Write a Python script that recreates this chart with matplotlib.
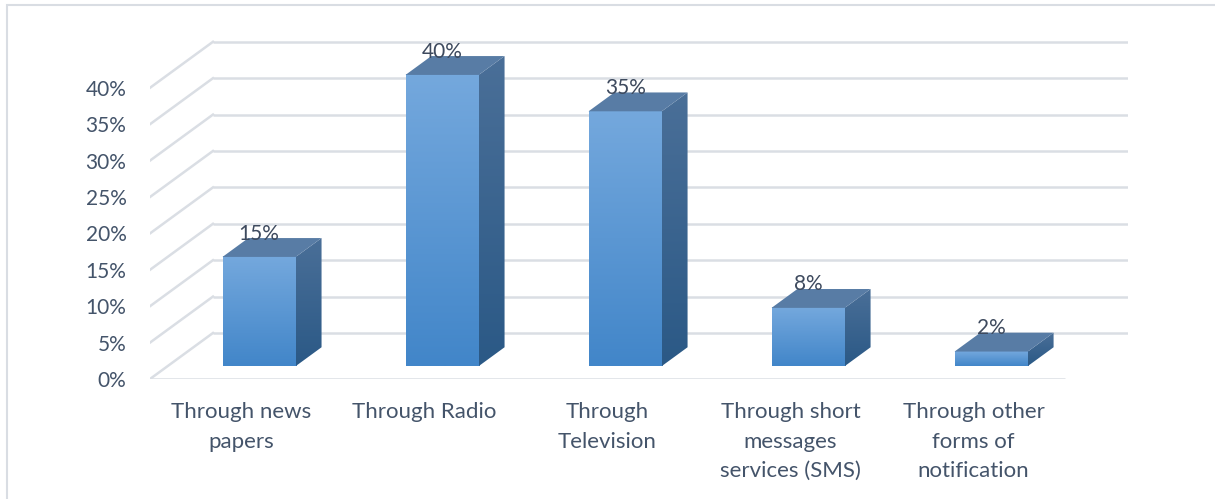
import numpy as np
import matplotlib.pyplot as plt
from matplotlib.patches import Polygon, Rectangle

plt.rcParams["font.family"] = ["Lato", "DejaVu Sans"]

categories = ["Through news\npapers", "Through Radio", "Through\nTelevision",
              "Through short\nmessages\nservices (SMS)", "Through other\nforms of\nnotification"]
values = [15, 40, 35, 8, 2]
yticks = [0, 5, 10, 15, 20, 25, 30, 35, 40]

text_color = "#44546A"
grid_color = "#DADEE4"

# oblique "3d" offsets for the full floor depth (x in category units, y in %)
DX, DY = 0.344, 6.32
F0, F1 = 0.28, 0.69   # bar front / back position inside the floor depth
W = 0.4

fig = plt.figure(figsize=(12.15, 4.99), dpi=100)
ax = fig.add_axes([150 / 1215, 120 / 499, 978 / 1215, 47 * 7.28 / 499])

n = len(categories)
x0, x1 = -0.5, n - 0.5

# back wall gridlines + left wall diagonals
for v in yticks:
    ax.plot([x0 + DX, x1 + DX], [v + DY, v + DY], color=grid_color, lw=1.8, zorder=1,
            solid_capstyle="butt")
    ax.plot([x0, x0 + DX], [v, v + DY], color=grid_color, lw=1.8, zorder=1)
# floor front edge
ax.plot([x0, x1], [0, 0], color=grid_color, lw=1.8, zorder=1, solid_capstyle="butt")


def grad(c_top, c_bot, n=64):
    a = np.array(plt.matplotlib.colors.to_rgb(c_top))
    b = np.array(plt.matplotlib.colors.to_rgb(c_bot))
    t = np.linspace(0, 1, n)[:, None]
    return (a * (1 - t) + b * t)[:, None, :]


for i, v in enumerate(values):
    fx = i + F0 * DX - W / 2
    fy = F0 * DY
    bx = i + F1 * DX - W / 2
    by = F1 * DY
    # front face
    ax.imshow(grad("#74A8DD", "#4286C9"), extent=[fx, fx + W, fy, fy + v],
              aspect="auto", origin="upper", zorder=3, interpolation="bilinear")
    # side face
    side = Polygon([(fx + W, fy), (bx + W, by), (bx + W, by + v), (fx + W, fy + v)],
                   closed=True, facecolor="none", edgecolor="none")
    ax.add_patch(side)
    im = ax.imshow(grad("#4A6F98", "#2B5986"), extent=[fx + W, bx + W, fy, by + v],
                   aspect="auto", origin="upper", zorder=3, interpolation="bilinear")
    im.set_clip_path(side)
    # top face
    top = Polygon([(fx, fy + v), (fx + W, fy + v), (bx + W, by + v), (bx, by + v)],
                  closed=True, facecolor="#587CA5", edgecolor="none", zorder=3)
    ax.add_patch(top)
    ax.text(i + F0 * DX, v + by - 0.2, f"{v}%", ha="center", va="baseline",
            fontsize=15, color="#3E4A5E", zorder=4)

ax.set_xlim(x0, x1 + DX)
ax.set_ylim(0, 47)

ax.set_yticks(yticks)
ax.set_yticklabels([f"{v}%" for v in yticks])
ax.set_xticks(range(n))
ax.set_xticklabels(categories, linespacing=1.6)
ax.tick_params(axis="y", length=0, pad=17, labelsize=15, labelcolor=text_color)
ax.tick_params(axis="x", length=0, pad=16.5, labelsize=16, labelcolor=text_color)
for s in ax.spines.values():
    s.set_visible(False)
ax.patch.set_visible(False)

# outer chart border
fig.patches.append(Rectangle((7 / 1215, -0.1), 1.2, (499 - 5) / 499 + 0.1,
                             transform=fig.transFigure, fill=False,
                             edgecolor="#D9DDE3", lw=1.5))

plt.savefig("out.png", dpi=100)
